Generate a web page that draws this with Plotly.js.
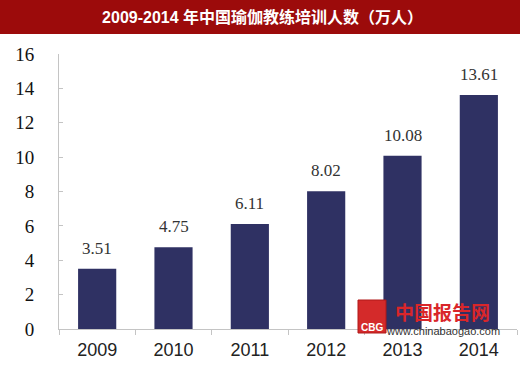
<!DOCTYPE html>
<html>
<head>
<meta charset="utf-8">
<script src="https://cdn.plot.ly/plotly-3.0.1.min.js"></script>
<style>html,body{margin:0;padding:0;background:#fff;}#chart{width:520px;height:371px;}</style>
</head>
<body>
<div id="chart"></div>
<script>
const years = ['2009', '2010', '2011', '2012', '2013', '2014'];
const trainees = [3.51, 4.75, 6.11, 8.02, 10.08, 13.61];
const valueLabels = ['3.51', '4.75', '6.11', '8.02', '10.08', '13.61'];
const titleText = '2009-2014 年中国瑜伽教练培训人数（万人）';

const L = 59, R = 3, T = 54, B = 42;
const W = 520, H = 371;
const pw = W - L - R, ph = H - T - B;
const px = x => (x - L) / pw;
const py = y => (H - B - y) / ph;

const annotations = years.map((yr, i) => ({
  x: i, y: trainees[i], xref: 'x', yref: 'y',
  text: valueLabels[i], showarrow: false,
  xanchor: 'center', yanchor: 'bottom', yshift: 9,
  font: {family: 'Liberation Serif, serif', size: 17, color: '#333'}
}));
annotations.push(
  {x: px(442), y: py(311), xref: 'paper', yref: 'paper', text: '<b>中国报告网</b>', showarrow: false,
   xanchor: 'center', yanchor: 'middle',
   font: {family: 'Noto Sans CJK SC', size: 19, color: '#d9262a'}},
  {x: px(443), y: py(331), xref: 'paper', yref: 'paper', text: 'www.chinabaogao.com', showarrow: false,
   xanchor: 'center', yanchor: 'middle',
   font: {family: 'Liberation Sans, Arial', size: 11, color: '#333'}},
  {x: px(372), y: py(327), xref: 'paper', yref: 'paper', text: '<b>CBG</b>', showarrow: false,
   xanchor: 'center', yanchor: 'middle',
   font: {family: 'Liberation Sans, Arial', size: 10, color: '#fff'}}
);

const trace = {
  type: 'bar', x: years, y: trainees,
  marker: {color: '#2f3163'},
  hoverinfo: 'none'
};

const layout = {
  width: W, height: H,
  margin: {l: L, r: R, t: T, b: B, pad: 0},
  paper_bgcolor: '#fff', plot_bgcolor: '#fff',
  bargap: 0.5,
  showlegend: false,
  title: {
    text: '<b>' + titleText + '</b>',
    x: 0.505, xref: 'container', xanchor: 'center',
    y: 1 - 17 / H, yref: 'container', yanchor: 'middle',
    font: {family: 'Liberation Sans, Noto Sans CJK SC', size: 16, color: '#fff'}
  },
  xaxis: {
    type: 'category', range: [-0.5, years.length - 0.5], autorange: false,
    showline: true, linecolor: '#c4c4c4', linewidth: 1,
    ticks: 'outside', tickson: 'boundaries', ticklen: 5, tickcolor: '#c4c4c4',
    showgrid: false, zeroline: false,
    tickfont: {family: 'Liberation Sans, Arial', size: 18, color: '#222'},
    ticklabelstandoff: 4
  },
  yaxis: {
    range: [0, 16], autorange: false, dtick: 2, tick0: 0,
    showline: true, linecolor: '#c4c4c4', linewidth: 1,
    ticks: 'inside', ticklen: 4, tickcolor: '#c4c4c4',
    showgrid: false, zeroline: false,
    tickfont: {family: 'Liberation Serif, serif', size: 19, color: '#111'},
    ticklabelstandoff: 20
  },
  shapes: [
    {type: 'rect', xref: 'paper', yref: 'paper', x0: px(0), x1: px(520), y0: py(34), y1: py(0),
     fillcolor: '#9c0b0b', line: {width: 0}, layer: 'below'},
    {type: 'rect', xref: 'paper', yref: 'paper', x0: px(358), x1: px(386), y0: py(333), y1: py(300),
     fillcolor: '#d42a2a', line: {color: '#b01818', width: 1}, layer: 'above'}
  ],
  annotations: annotations
};

Plotly.newPlot('chart', [trace], layout, {displayModeBar: false, staticPlot: true});
</script>
</body>
</html>
